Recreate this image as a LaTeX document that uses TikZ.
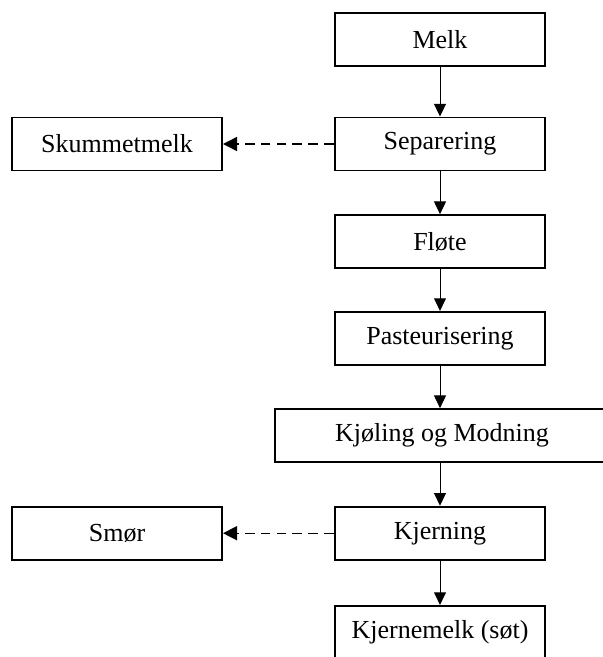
\documentclass[tikz,border=0pt]{standalone}
\usepackage{fontspec}
\setmainfont{Liberation Serif}
\usepackage{tikz}
\usetikzlibrary{positioning, arrows.meta}

\begin{document}
\begin{tikzpicture}[
		font=\fontsize{18.5pt}{22pt}\selectfont,
		stepbox/.style={
			draw,
			rectangle,
			line width=1.4pt,
			minimum width=5.25cm,
			minimum height=1.325cm,
			inner sep=0pt},
		flow/.style={-{Triangle[length=9pt,width=8.5pt]}, line width=0.7pt},
		side/.style={-{Triangle[length=10pt,width=10pt]}, line width=1pt, dash pattern=on 7pt off 4.3pt}
		]
		\useasboundingbox (0,0) rectangle (15.075,-16.425);
		
		% draw main process chain
		\foreach \txt/\y [count=\step from 1] in {Melk/0.99,Separering/3.6,Fl{\o}te/6.04,Pasteurisering/8.46}
		\node[stepbox] (p\step) at (11, -\y) {\txt};
		
		\node[stepbox, minimum width=8.35cm] (p5) at (11.05, -10.89) {Kj{\o}ling og Modning};
		
		\foreach \txt/\y [count=\step from 6] in {Kjerning/13.33,Kjernemelk (s{\o}t)/15.81}
		\node[stepbox] (p\step) at (11, -\y) {\txt};
		
		\foreach \step in {1,...,6} {
			\pgfmathtruncatemacro{\next}{add(\step,1)}
			\draw[flow] (p\step.south -| p1) -> (p\next.north -| p1);
		}
		
		% side products
		\node[stepbox] (skum) at (2.925, -3.6) {Skummetmelk};
		\node[stepbox] (smor) at (2.925, -13.33) {Sm{\o}r};
		\draw[side] (p2.west) -> (skum.east);
		\draw[side] (p6.west) -> (smor.east);
		\end{tikzpicture}
\end{document}
